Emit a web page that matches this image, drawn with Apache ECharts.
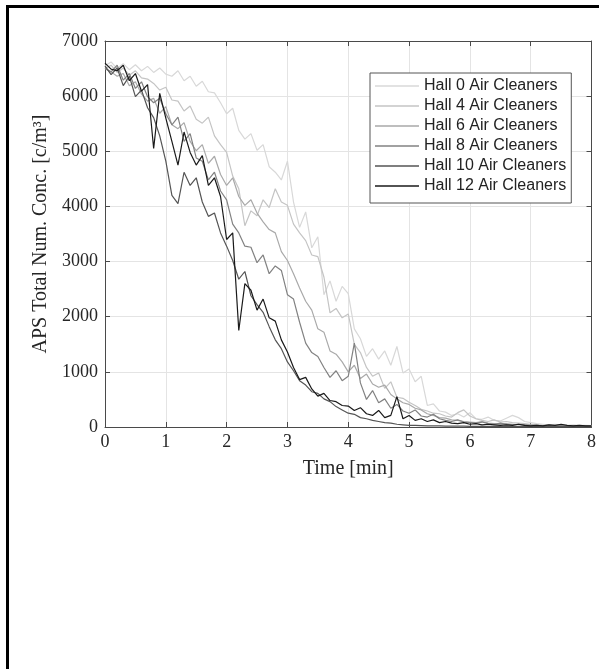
<!DOCTYPE html>
<html>
<head>
<meta charset="utf-8">
<script src="https://cdn.jsdelivr.net/npm/echarts@6/dist/echarts.min.js"></script>
<style>html,body{margin:0;padding:0;background:#fff;}#c{width:599px;height:669px;}</style>
</head>
<body>
<div id="c"></div>
<script>
// time samples [min]
const times = [0,0.1,0.2,0.3,0.4,0.5,0.6,0.7,0.8,0.9,1.0,1.1,1.2,1.3,1.4,1.5,1.6,1.7,1.8,1.9,2.0,2.1,2.2,2.3,2.4,2.5,2.6,2.7,2.8,2.9,3.0,3.1,3.2,3.3,3.4,3.5,3.6,3.7,3.8,3.9,4.0,4.1,4.2,4.3,4.4,4.5,4.6,4.7,4.8,4.9,5.0,5.1,5.2,5.3,5.4,5.5,5.6,5.7,5.8,5.9,6.0,6.1,6.2,6.3,6.4,6.5,6.6,6.7,6.8,6.9,7.0,7.1,7.2,7.3,7.4,7.5,7.6,7.7,7.8,7.9,8.0];

const seriesNames = ["Hall 0 Air Cleaners","Hall 4 Air Cleaners","Hall 6 Air Cleaners","Hall 8 Air Cleaners","Hall 10 Air Cleaners","Hall 12 Air Cleaners"];

const hall0 = [6550,6620,6500,6590,6480,6570,6460,6540,6430,6510, 6400,6360,6460,6280,6360,6180,6270,6080,6060,5880, 5680,5780,5380,5220,5320,5020,5120,4720,4620,4480, 4820,4080,3620,3900,3250,3450,2400,2650,2280,2550, 2420,1780,1600,1280,1420,1230,1380,1120,1460,980, 1050,820,920,390,420,290,270,210,240,180, 260,150,140,180,120,110,160,210,170,100, 80,60,50,40,50,40,30,40,30,30, 25];
const hall4 = [6500,6560,6430,6510,6380,6460,6330,6310,6230,6110, 6160,5930,5910,5730,5820,5580,5510,5620,5280,5120, 4980,4550,4320,3650,3920,3830,4120,3980,4320,4080, 4020,3680,3520,3380,3120,3090,2720,2070,2150,1980, 2050,1500,1350,1080,920,980,700,820,540,520, 450,390,320,290,250,240,200,180,260,310, 200,150,120,100,130,90,100,80,70,60, 50,40,30,30,25,30,20,25,20,20, 20];
const hall6 = [6500,6440,6360,6410,6190,6260,6040,5910,5960,5690, 5810,5480,5410,5520,5180,5010,5120,4780,4910,4580, 4380,4520,4180,4020,4120,3880,3720,3580,3520,3180, 3020,2780,2520,2280,2120,1780,1720,1380,1320,1180, 1000,1120,880,960,780,720,760,590,510,440, 410,340,310,240,210,170,160,130,120,100, 90,80,100,70,60,50,60,50,40,40, 30,30,25,30,20,25,20,20,15,20, 15];
const hall8 = [6500,6440,6560,6290,6410,6140,6260,5990,5880,5960, 5680,5480,5620,5180,5320,4880,4820,4480,4620,4280, 4120,3680,3520,3280,3260,2980,3120,2780,2920,2840, 2400,2320,1900,1520,1350,1280,1080,900,1020,840, 920,1520,800,500,660,440,510,340,410,290, 250,310,200,180,230,150,120,100,130,90, 80,70,90,60,50,70,50,40,50,40, 30,30,20,30,20,20,15,20,15,10, 10];
const hall10 = [6550,6390,6510,6190,6360,5990,6110,5790,5610,5280, 4820,4200,4050,4620,4380,4520,4080,3820,3880,3520, 3280,3020,2680,2820,2380,2220,2080,1820,1580,1420, 1180,1020,840,760,640,610,510,460,370,310, 250,230,170,150,120,100,80,70,50,40, 30,30,25,20,20,20,15,15,18,15, 12,10,14,10,12,8,10,12,9,10, 8,10,12,9,8,10,7,9,8,10, 8];
const hall12 = [6600,6490,6460,6560,6280,6410,6090,6210,5050,6050, 5600,5180,4750,5350,4980,4750,4920,4380,4520,4180, 3400,3520,1750,2600,2480,2120,2320,1980,1920,1580, 1360,1080,860,900,690,560,610,480,460,390, 380,300,350,240,210,300,170,210,550,150, 210,120,150,100,130,80,100,70,60,80, 50,60,40,50,40,30,40,30,50,30, 20,30,20,40,30,50,30,20,30,20, 20];

const allValues = [hall0, hall4, hall6, hall8, hall10, hall12];
const lineColors = ['#d8d8d8','#c4c4c4','#a9a9a9','#828282','#555555','#1a1a1a'];

const xTicks = [0,1,2,3,4,5,6,7,8];
const yTicks = [0,1000,2000,3000,4000,5000,6000,7000];

const chart = echarts.init(document.getElementById('c'), null, {renderer:'canvas'});
const serif = 'Liberation Serif, Times New Roman, serif';
const axisColor = '#4a4a4a';

const series = allValues.map((vals, i) => ({
  name: seriesNames[i],
  type: 'line',
  xAxisIndex: 0, yAxisIndex: 0,
  data: vals.map((v, k) => [times[k], v]),
  symbol: 'none',
  showSymbol: false,
  animation: false,
  lineStyle: {color: lineColors[i], width: 1.2},
  itemStyle: {color: lineColors[i]},
  z: 2 + i
}));

chart.setOption({
  backgroundColor: '#fff',
  animation: false,
  grid: {left: 105, top: 41, right: 5, bottom: 242, show: false},
  graphic: [{
    type: 'rect', silent: true,
    shape: {x: 7.5, y: 6.5, width: 800, height: 900},
    style: {fill: 'none', stroke: '#000', lineWidth: 3}
  }],
  legend: {
    orient: 'vertical',
    left: 370, top: 73,
    padding: [5, 5, 9, 5],
    icon: 'rect',
    itemWidth: 44, itemHeight: 1.5, itemGap: 4,
    borderColor: '#555', borderWidth: 1, backgroundColor: '#fff',
    textStyle: {fontFamily: 'Liberation Sans, Arial, sans-serif', fontSize: 16, color: '#222', lineHeight: 16},
    data: seriesNames
  },
  xAxis: [{
    type: 'value', min: xTicks[0], max: xTicks[xTicks.length-1], interval: 1,
    position: 'bottom',
    name: 'Time [min]', nameLocation: 'middle', nameGap: 32,
    nameTextStyle: {fontFamily: serif, fontSize: 20, color: '#262626'},
    axisLine: {show: true, onZero: false, lineStyle: {color: axisColor, width: 1}},
    axisTick: {show: true, inside: true, length: 5, lineStyle: {color: axisColor}},
    axisLabel: {fontFamily: serif, fontSize: 18, color: '#262626', margin: 6},
    splitLine: {show: true, lineStyle: {color: '#e4e4e4', width: 1}}
  }, {
    type: 'value', min: xTicks[0], max: xTicks[xTicks.length-1], interval: 1,
    position: 'top',
    axisLine: {show: true, onZero: false, lineStyle: {color: axisColor, width: 1}},
    axisTick: {show: true, inside: true, length: 5, lineStyle: {color: axisColor}},
    axisLabel: {show: false},
    splitLine: {show: false}
  }],
  yAxis: [{
    type: 'value', min: yTicks[0], max: yTicks[yTicks.length-1], interval: 1000,
    position: 'left',
    name: 'APS Total Num. Conc. [c/m³]', nameLocation: 'middle', nameGap: 48, nameRotate: 90,
    nameTextStyle: {fontFamily: serif, fontSize: 20, color: '#262626'},
    axisLine: {show: true, onZero: false, lineStyle: {color: axisColor, width: 1}},
    axisTick: {show: true, inside: true, length: 5, lineStyle: {color: axisColor}},
    axisLabel: {fontFamily: serif, fontSize: 18, color: '#262626', margin: 7, formatter: v => String(v)},
    splitLine: {show: true, lineStyle: {color: '#e4e4e4', width: 1}}
  }, {
    type: 'value', min: yTicks[0], max: yTicks[yTicks.length-1], interval: 1000,
    position: 'right',
    axisLine: {show: true, onZero: false, lineStyle: {color: axisColor, width: 1}},
    axisTick: {show: true, inside: true, length: 5, lineStyle: {color: axisColor}},
    axisLabel: {show: false},
    splitLine: {show: false}
  }],
  series: series
});
</script>
</body>
</html>
